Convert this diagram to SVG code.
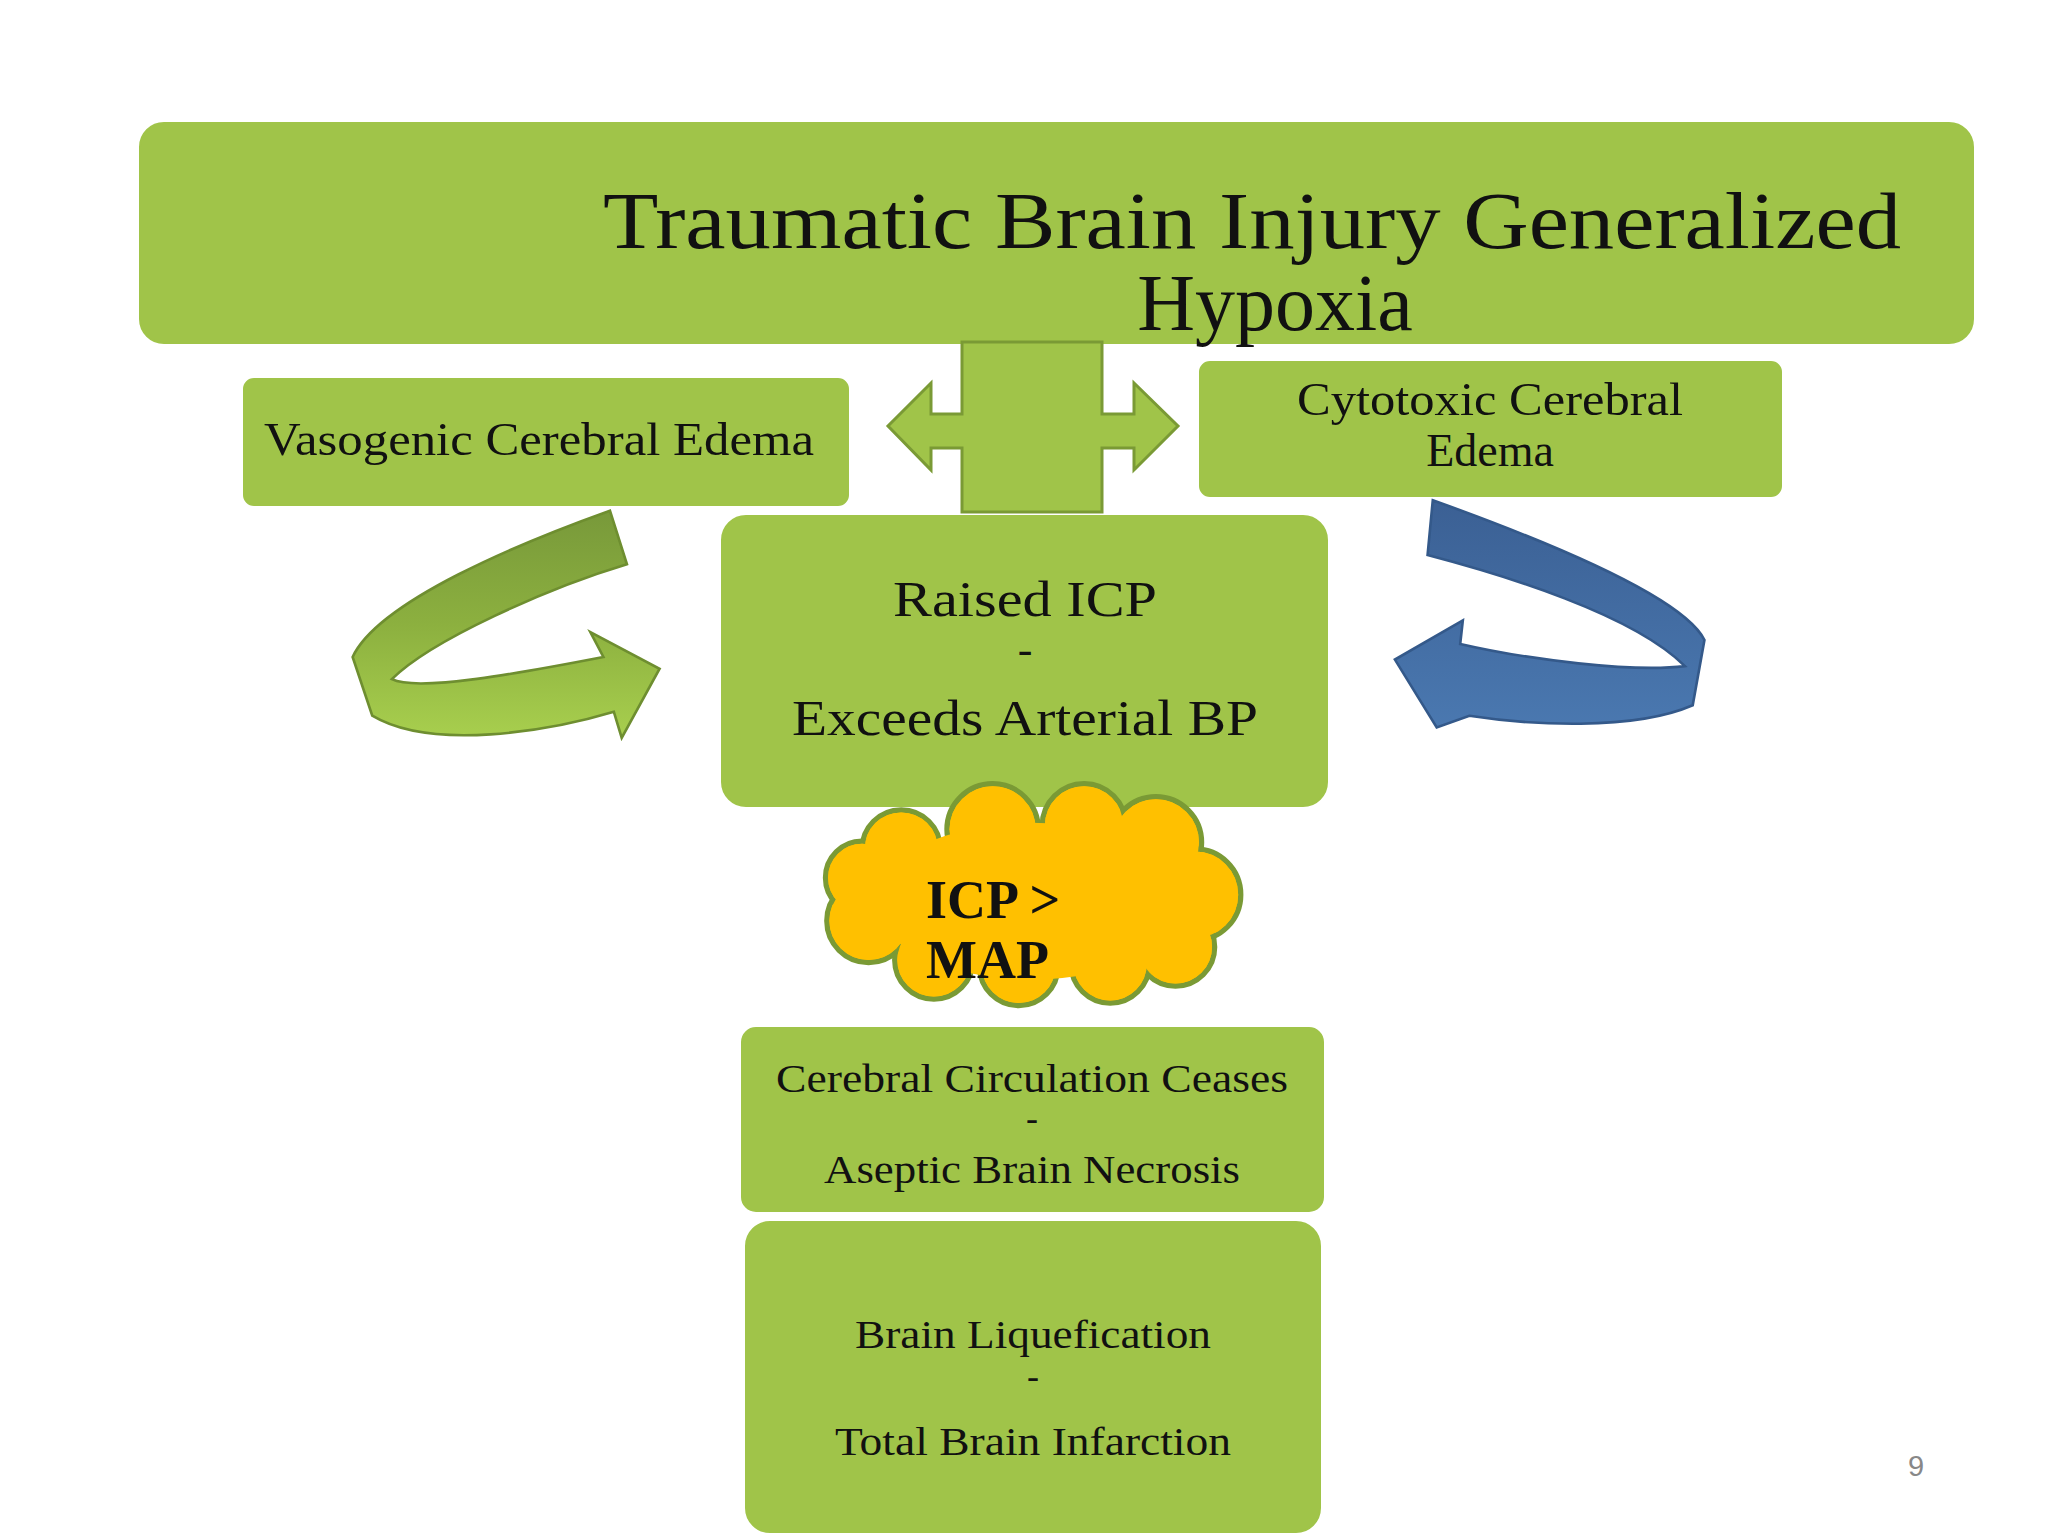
<svg xmlns="http://www.w3.org/2000/svg" width="2048" height="1536" viewBox="0 0 2048 1536">
<style>
.box{fill:#a0c449;stroke:#a0c449;stroke-width:2}
.t{font-family:"Liberation Serif","DejaVu Serif",serif;fill:#111;text-anchor:middle}
.ts{font-family:"Liberation Serif","DejaVu Serif",serif;fill:#111;text-anchor:start;font-weight:bold}
.cl{fill:#ffc000;stroke:#7a9a35;stroke-width:4}
.cf{fill:#ffc000}
</style>
<defs>
<linearGradient id="lg" x1="0" y1="0" x2="0" y2="1"><stop offset="0" stop-color="#78993a"/><stop offset="0.5" stop-color="#8cb03f"/><stop offset="1" stop-color="#a8cf4e"/></linearGradient>
<linearGradient id="bg" x1="0" y1="0" x2="0" y2="1"><stop offset="0" stop-color="#3b6094"/><stop offset="1" stop-color="#4a78b0"/></linearGradient>
</defs>
<rect width="2048" height="1536" fill="#fff"/>
<g id="title"><rect class="box" x="140" y="123" width="1833" height="220" rx="24"/>
<text class="t" x="1252" y="248" font-size="80" textLength="1298" lengthAdjust="spacingAndGlyphs">Traumatic Brain Injury  Generalized</text>
<text class="t" x="1275" y="330" font-size="80">Hypoxia</text></g>
<g id="vasogenic"><rect class="box" x="244" y="379" width="604" height="126" rx="10"/>
<text class="t" x="539" y="455" font-size="46" textLength="550" lengthAdjust="spacingAndGlyphs">Vasogenic Cerebral Edema</text></g>
<g id="cytotoxic"><rect class="box" x="1200" y="362" width="581" height="134" rx="10"/>
<text class="t" x="1490" y="415" font-size="46" textLength="386" lengthAdjust="spacingAndGlyphs">Cytotoxic Cerebral</text>
<text class="t" x="1490" y="466" font-size="46">Edema</text></g>
<g id="connectors">
<path d="M962,342 H1102 V414 H1134 V383 L1178,426 L1134,470 V448 H1102 V512 H962 V448 H931 V470 L888,426 L931,383 V414 H962 Z" fill="#a0c449" stroke="#7a9a35" stroke-width="3"/>
<g transform="scale(1.3061)">
<path d="M467,391 C400,415 290,460 270,503 L285,548 C330,575 420,560 470,545 L476,565 L505,512 L452,484 L462,503 C400,515 320,530 300,520 C330,490 420,450 480,432 Z" fill="url(#lg)" stroke="#6e8e30" stroke-width="2"/>
<path d="M1097,383 C1200,420 1290,460 1305,490 L1296,540 C1250,560 1170,555 1125,548 L1100,557 L1068,505 L1120,475 L1118,493 C1170,505 1250,515 1290,510 C1250,470 1150,440 1093,425 Z" fill="url(#bg)" stroke="#34598a" stroke-width="2"/>
</g>
</g>
<g id="raised"><rect class="box" x="722" y="516" width="605" height="290" rx="24"/>
<text class="t" x="1025" y="616" font-size="50" textLength="264" lengthAdjust="spacingAndGlyphs">Raised ICP</text>
<text class="t" x="1025" y="664" font-size="44">-</text>
<text class="t" x="1025" y="735" font-size="50" textLength="466" lengthAdjust="spacingAndGlyphs">Exceeds Arterial BP</text></g>
<g id="cloud"><g transform="scale(1.3061)">
<g class="cl"><circle cx="690" cy="650" r="30"/><circle cx="760" cy="635" r="35"/><circle cx="830" cy="632" r="32"/><circle cx="885" cy="645" r="35"/><circle cx="915" cy="685" r="35"/><circle cx="900" cy="725" r="30"/><circle cx="850" cy="738" r="30"/><circle cx="780" cy="740" r="30"/><circle cx="715" cy="735" r="30"/><circle cx="665" cy="705" r="32"/><circle cx="660" cy="672" r="28"/></g>
<g class="cf"><circle cx="690" cy="650" r="28"/><circle cx="760" cy="635" r="33"/><circle cx="830" cy="632" r="30"/><circle cx="885" cy="645" r="33"/><circle cx="915" cy="685" r="33"/><circle cx="900" cy="725" r="28"/><circle cx="850" cy="738" r="28"/><circle cx="780" cy="740" r="28"/><circle cx="715" cy="735" r="28"/><circle cx="665" cy="705" r="30"/><circle cx="660" cy="672" r="26"/><ellipse cx="790" cy="690" rx="120" ry="60"/></g>
</g>
<text class="ts" x="926" y="918" font-size="54">ICP &gt;</text>
<text class="ts" x="926" y="978" font-size="54">MAP</text></g>
<g id="circulation"><rect class="box" x="742" y="1028" width="581" height="183" rx="14"/>
<text class="t" x="1032" y="1092" font-size="41" textLength="512" lengthAdjust="spacingAndGlyphs">Cerebral Circulation Ceases</text>
<text class="t" x="1032" y="1130" font-size="36">-</text>
<text class="t" x="1032" y="1183" font-size="41" textLength="416" lengthAdjust="spacingAndGlyphs">Aseptic Brain Necrosis</text></g>
<g id="liquefication"><rect class="box" x="746" y="1222" width="574" height="310" rx="24"/>
<text class="t" x="1033" y="1348" font-size="41" textLength="356" lengthAdjust="spacingAndGlyphs">Brain Liquefication</text>
<text class="t" x="1033" y="1388" font-size="36">-</text>
<text class="t" x="1033" y="1455" font-size="41" textLength="396" lengthAdjust="spacingAndGlyphs">Total Brain Infarction</text></g>
<text x="1916" y="1476" font-size="29" fill="#888" font-family="Liberation Sans,sans-serif" text-anchor="middle">9</text>
</svg>
